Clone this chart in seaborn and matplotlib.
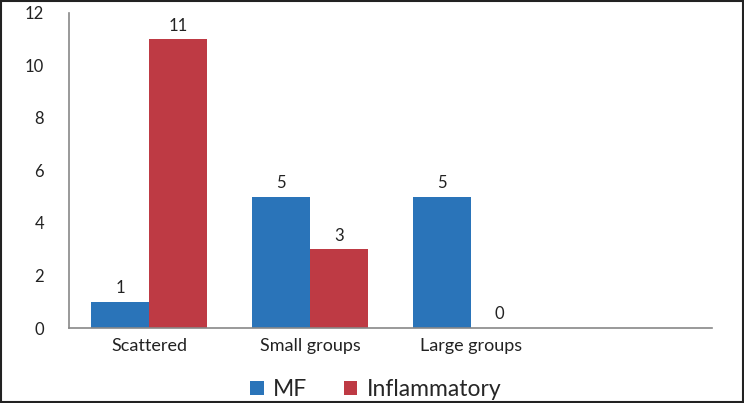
import seaborn as sns
import matplotlib.pyplot as plt
import pandas as pd

categories = ['Scattered', 'Small groups', 'Large groups']
mf = [1, 5, 5]
inflammatory = [11, 3, 0]
series = ['MF', 'Inflammatory']
colors = ['#2a74b9', '#be3a44']

df = pd.DataFrame({
    'group': categories * 2,
    'count': mf + inflammatory,
    'type': [series[0]] * 3 + [series[1]] * 3,
})

sns.set_style('white')
plt.rcParams['font.family'] = ['Lato', 'DejaVu Sans']

fig = plt.figure(figsize=(7.44, 4.03), dpi=100)
ax = fig.add_axes([0.0927, 0.186, 0.864, 0.782])

# an empty fourth slot, as in the original layout
order = categories + [' ']
sns.barplot(data=df, x='group', y='count', hue='type', order=order,
            hue_order=series, palette=colors, width=0.72, saturation=1,
            linewidth=0, ax=ax, legend=True)

for c in ax.containers:
    ax.bar_label(c, fmt='%d', padding=4, fontsize=12, color='#222222')

ax.set_ylim(0, 12)
ax.set_yticks(range(0, 13, 2))
ax.set_xlim(-0.5, 3.5)
ax.set_xlabel('')
ax.set_ylabel('')
ax.tick_params(axis='x', length=0, labelsize=13, colors='#222222', pad=7)
ax.tick_params(axis='y', length=0, labelsize=12, colors='#222222', pad=18)
sns.despine(ax=ax)
for s in ['left', 'bottom']:
    ax.spines[s].set_color('#888888')
    ax.spines[s].set_linewidth(1.2)

ax.legend(loc='center', bbox_to_anchor=(0.477, -0.195), ncol=2, frameon=False,
          fontsize=16.5, handlelength=0.6, handleheight=0.6, columnspacing=1.6,
          handletextpad=0.4)

# outer frame
fig.patches.append(plt.Rectangle((0.001, 0.002), 0.997, 0.996, transform=fig.transFigure,
                                 fill=False, edgecolor='#222222', linewidth=1.5))

fig.savefig('out.png', dpi=100)
